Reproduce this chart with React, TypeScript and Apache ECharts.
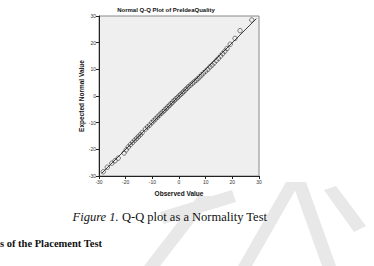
import React, { useEffect, useRef } from "react";
import * as echarts from "echarts";

const chartTitle = "Normal Q-Q Plot of PreIdeaQuality";
const xAxisName = "Observed Value";
const yAxisName = "Expected Normal Value";
const caption = "Q-Q plot as a Normality Test";
const captionLead = "Figure 1.";
const sectionText = "s of the Placement Test";

const axisMin = -30;
const axisMax = 30;
const axisInterval = 10;

const observed = [
  -28.4, -26.9, -25.2, -24.0, -22.8, -20.6, -19.8, -19.0, -18.2, -17.4, -16.6, -15.9,
  -15.2, -14.5, -13.8, -12.6, -11.8, -11.0, -10.2, -9.5, -8.8, -8.1, -7.4, -6.7, -6.0,
  -5.4, -4.8, -4.2, -3.6, -3.0, -2.4, -1.8, -1.2, -0.6, 0.0, 0.6, 1.2, 1.8, 2.4, 3.0,
  3.6, 4.3, 5.0, 5.7, 6.4, 7.1, 7.8, 8.5, 9.2, 10.0, 10.8, 11.6, 12.4, 13.2, 14.0, 14.8,
  15.6, 16.4, 17.2, 18.0, 19.2, 21.0, 22.9, 27.3,
];
const expected = [
  -28.4, -26.7, -25.2, -24.3, -23.3, -21.4, -20.2, -19.1, -18.2, -17.4, -16.6, -15.9,
  -15.2, -14.5, -13.7, -12.4, -11.6, -10.9, -10.0, -9.3, -8.6, -7.9, -7.2, -6.5, -5.9,
  -5.3, -4.7, -4.1, -3.5, -2.9, -2.3, -1.7, -1.1, -0.6, 0.0, 0.6, 1.1, 1.7, 2.3, 2.9,
  3.5, 4.1, 4.7, 5.3, 5.9, 6.5, 7.2, 7.9, 8.6, 9.3, 10.0, 10.9, 11.6, 12.4, 13.3, 14.1,
  15.0, 15.9, 16.8, 17.8, 19.4, 21.6, 24.5, 28.5,
];
const refLine = [
  [-29, -29],
  [29, 29],
];

export default function App() {
  const ref = useRef<HTMLDivElement>(null);
  useEffect(() => {
    if (!ref.current) return;
    const chart = echarts.init(ref.current, null, { renderer: "svg" });
    const wm = "#e8e8e8";
    const axisCommon = {
      type: "value",
      min: axisMin,
      max: axisMax,
      interval: axisInterval,
      nameLocation: "middle",
      nameGap: 14,
      nameTextStyle: { fontFamily: "Liberation Sans", fontWeight: "bold", fontSize: 6.5, color: "#111" },
      axisLine: { onZero: false, lineStyle: { color: "#222", width: 1 } },
      axisTick: { show: true, length: 3, lineStyle: { color: "#222" } },
      axisLabel: { fontSize: 5, color: "#333", margin: 3, fontFamily: "Liberation Sans" },
      splitLine: { show: false },
    };
    chart.setOption({
      animation: false,
      backgroundColor: "#ffffff",
      title: {
        text: chartTitle,
        left: 166,
        top: 7,
        padding: 0,
        textAlign: "center",
        textStyle: { fontFamily: "Liberation Sans", fontWeight: "bold", fontSize: 6, color: "#111" },
      },
      grid: {
        left: 99,
        top: 16,
        width: 160,
        height: 160,
        show: true,
        backgroundColor: "#efefef",
        borderColor: "#8a8a8a",
        borderWidth: 1,
      },
      xAxis: { ...axisCommon, name: xAxisName },
      yAxis: { ...axisCommon, name: yAxisName },
      graphic: [
        { type: "polygon", z: -10, shape: { points: [[198, 196], [214, 196], [160, 266], [144, 266]] }, style: { fill: wm } },
        { type: "polygon", z: -10, shape: { points: [[160, 212], [232, 190], [236, 202], [164, 224]] }, style: { fill: wm } },
        { type: "polygon", z: -10, shape: { points: [[286, 182], [300, 182], [252, 266], [238, 266]] }, style: { fill: wm } },
        { type: "polygon", z: -10, shape: { points: [[292, 182], [306, 182], [336, 266], [322, 266]] }, style: { fill: wm } },
        { type: "polygon", z: -10, shape: { points: [[324, 190], [336, 186], [366, 226], [354, 232]] }, style: { fill: wm } },
        {
          type: "text",
          x: 267,
          y: 217,
          style: {
            text: "{i|" + captionLead + "} " + caption,
            font: "12.5px 'Liberation Serif'",
            align: "right",
            verticalAlign: "middle",
            fill: "#111",
            rich: { i: { fontStyle: "italic", fontFamily: "Liberation Serif", fontSize: 12.5 } },
          },
        },
        {
          type: "text",
          x: 0,
          y: 243,
          style: {
            text: sectionText,
            font: "bold 10.5px 'Liberation Serif'",
            verticalAlign: "middle",
            fill: "#111",
          },
        },
      ],
      series: [
        {
          type: "line",
          data: refLine,
          symbol: "none",
          lineStyle: { color: "#111", width: 0.8 },
          z: 2,
        },
        {
          type: "scatter",
          data: observed.map((v, i) => [v, expected[i]]),
          symbol: "circle",
          symbolSize: 4.5,
          itemStyle: { color: "rgba(0,0,0,0)", borderColor: "#222", borderWidth: 0.7 },
          z: 3,
        },
      ],
    });
    return () => chart.dispose();
  }, []);
  return <div ref={ref} style={{ position: "fixed", left: 0, top: 0, width: 374, height: 266 }} />;
}
